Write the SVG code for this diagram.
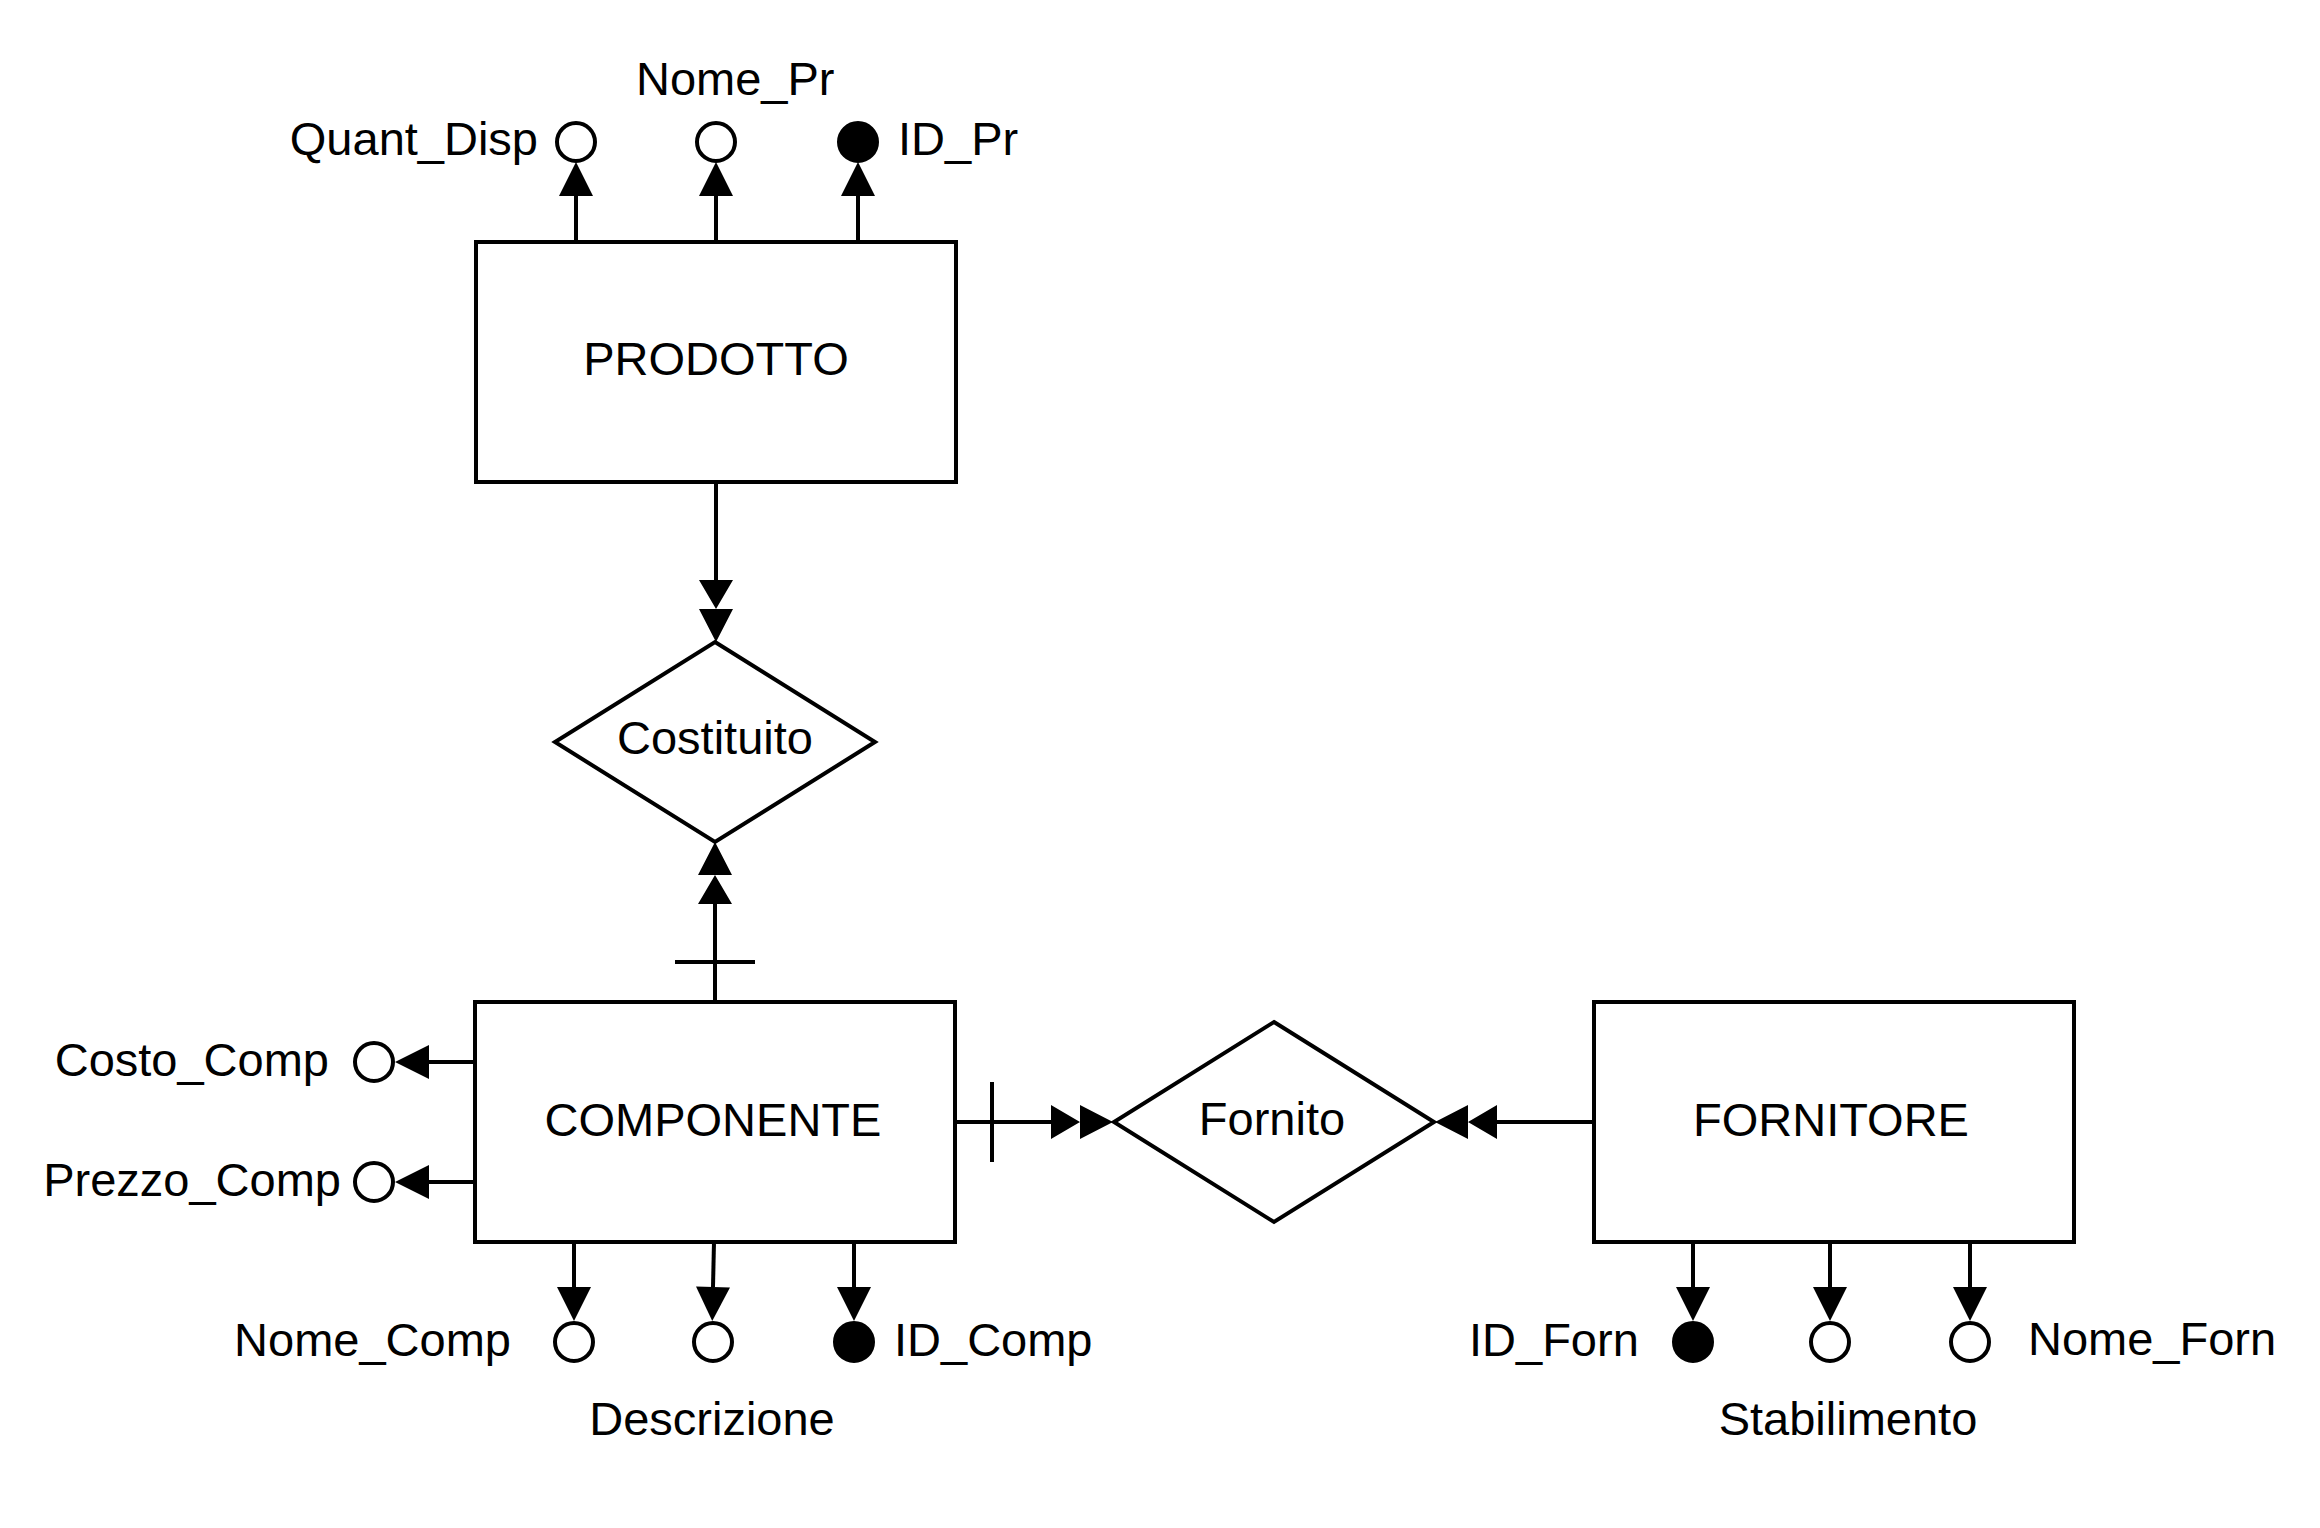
<svg xmlns="http://www.w3.org/2000/svg" width="2320" height="1528" viewBox="0 0 2320 1528">
<style>
.shape{fill:#fff;stroke:#000;stroke-width:4}
.edge{fill:none;stroke:#000;stroke-width:4}
.attr{fill:#fff;stroke:#000;stroke-width:4}
.key{fill:#000;stroke:#000;stroke-width:4}
text{font-family:"Liberation Sans",Arial,sans-serif;font-size:47px;fill:#000}
.m{text-anchor:middle}
.e{text-anchor:end}
</style>
<defs>
<marker id="blk" markerUnits="userSpaceOnUse" markerWidth="34" markerHeight="34" refX="0" refY="17" orient="auto" overflow="visible">
<path d="M0,0 L34,17 L0,34 z" fill="#000"/>
</marker>
<marker id="dbl" markerUnits="userSpaceOnUse" markerWidth="62" markerHeight="34" refX="0" refY="17" orient="auto" overflow="visible">
<path d="M0,0 L29,17 L0,34 z M29,0 L62,17 L29,34 z" fill="#000"/>
</marker>
</defs>
<rect width="2320" height="1528" fill="#fff"/>
<g id="connectors">
<line class="edge" x1="576" y1="242" x2="576" y2="196" marker-end="url(#blk)"/>
<line class="edge" x1="716" y1="242" x2="716" y2="196" marker-end="url(#blk)"/>
<line class="edge" x1="858" y1="242" x2="858" y2="196" marker-end="url(#blk)"/>
<line class="edge" x1="716" y1="482" x2="716" y2="580" marker-end="url(#dbl)"/>
<line class="edge" x1="715" y1="1002" x2="715" y2="904" marker-end="url(#dbl)"/>
<line class="edge" x1="675" y1="962" x2="755" y2="962"/>
<line class="edge" x1="475" y1="1062" x2="429" y2="1062" marker-end="url(#blk)"/>
<line class="edge" x1="475" y1="1182" x2="429" y2="1182" marker-end="url(#blk)"/>
<line class="edge" x1="574" y1="1242" x2="574" y2="1287" marker-end="url(#blk)"/>
<line class="edge" x1="714" y1="1242" x2="713" y2="1287" marker-end="url(#blk)"/>
<line class="edge" x1="854" y1="1242" x2="854" y2="1287" marker-end="url(#blk)"/>
<line class="edge" x1="955" y1="1122" x2="1051" y2="1122" marker-end="url(#dbl)"/>
<line class="edge" x1="992" y1="1082" x2="992" y2="1162"/>
<line class="edge" x1="1594" y1="1122" x2="1497" y2="1122" marker-end="url(#dbl)"/>
<line class="edge" x1="1693" y1="1242" x2="1693" y2="1287" marker-end="url(#blk)"/>
<line class="edge" x1="1830" y1="1242" x2="1830" y2="1287" marker-end="url(#blk)"/>
<line class="edge" x1="1970" y1="1242" x2="1970" y2="1287" marker-end="url(#blk)"/>
</g>
<g id="prodotto">
<rect class="shape" x="476" y="242" width="480" height="240"/>
<text class="m" x="716" y="375">PRODOTTO</text>
</g>
<g id="quant_disp">
<circle class="attr" cx="576" cy="142" r="19"/>
<text class="e" x="538" y="155">Quant_Disp</text>
</g>
<g id="nome_pr">
<circle class="attr" cx="716" cy="142" r="19"/>
<text x="636" y="95">Nome_Pr</text>
</g>
<g id="id_pr">
<circle class="key" cx="858" cy="142" r="19"/>
<text x="898" y="155">ID_Pr</text>
</g>
<g id="costituito">
<polygon class="shape" points="715,642 875,742 715,842 555,742"/>
<text class="m" x="715" y="754">Costituito</text>
</g>
<g id="componente">
<rect class="shape" x="475" y="1002" width="480" height="240"/>
<text class="m" x="713" y="1136">COMPONENTE</text>
</g>
<g id="costo_comp">
<circle class="attr" cx="374" cy="1062" r="19"/>
<text class="e" x="329" y="1076">Costo_Comp</text>
</g>
<g id="prezzo_comp">
<circle class="attr" cx="374" cy="1182" r="19"/>
<text class="e" x="341" y="1196">Prezzo_Comp</text>
</g>
<g id="nome_comp">
<circle class="attr" cx="574" cy="1342" r="19"/>
<text class="e" x="511" y="1356">Nome_Comp</text>
</g>
<g id="descrizione">
<circle class="attr" cx="713" cy="1342" r="19"/>
<text class="m" x="712" y="1435">Descrizione</text>
</g>
<g id="id_comp">
<circle class="key" cx="854" cy="1342" r="19"/>
<text x="894" y="1356">ID_Comp</text>
</g>
<g id="fornito">
<polygon class="shape" points="1274,1022 1434,1122 1274,1222 1114,1122"/>
<text class="m" x="1272" y="1135">Fornito</text>
</g>
<g id="fornitore">
<rect class="shape" x="1594" y="1002" width="480" height="240"/>
<text class="m" x="1831" y="1136">FORNITORE</text>
</g>
<g id="id_forn">
<circle class="key" cx="1693" cy="1342" r="19"/>
<text x="1469" y="1356">ID_Forn</text>
</g>
<g id="stabilimento">
<circle class="attr" cx="1830" cy="1342" r="19"/>
<text class="m" x="1848" y="1435">Stabilimento</text>
</g>
<g id="nome_forn">
<circle class="attr" cx="1970" cy="1342" r="19"/>
<text x="2028" y="1355">Nome_Forn</text>
</g>
</svg>
